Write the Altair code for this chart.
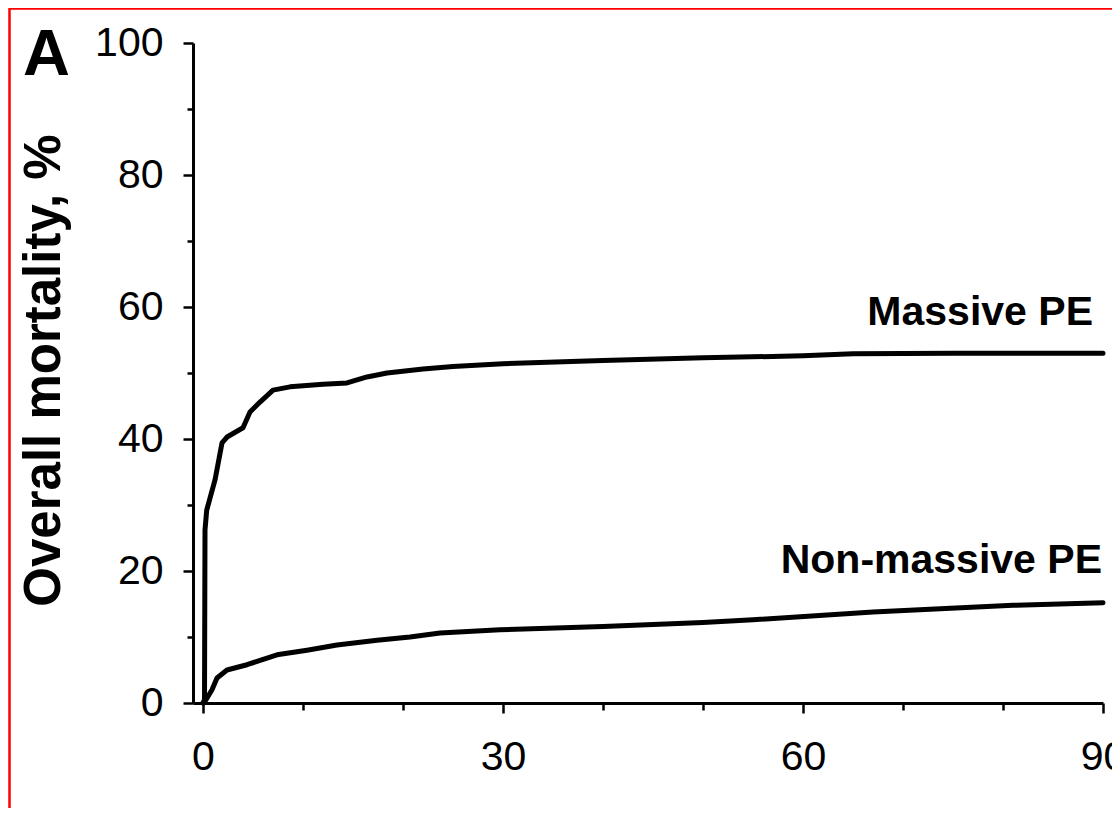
import altair as alt
import pandas as pd

# ---- data ----
days_massive = [0, 0.15, 0.2, 0.37, 1.2, 1.9, 2.4, 4.0, 4.7, 5.7, 7.0, 8.7, 12.0,
                14.4, 16.4, 18.4, 22.0, 25.0, 30.0, 40.0, 50.0, 60.0, 65.0, 75.0, 90.0]
mort_massive = [0, 0.5, 26.2, 29.2, 33.8, 39.4, 40.3, 41.7, 44.1, 45.6, 47.4, 47.9, 48.3,
                48.5, 49.4, 50.0, 50.6, 51.0, 51.4, 51.9, 52.3, 52.6, 52.9, 53.0, 53.0]

days_nonmassive = [0, 0.3, 0.9, 1.4, 2.4, 4.4, 7.4, 10.4, 13.4, 17.4, 20.7, 23.7,
                   29.7, 40.0, 50.0, 55.0, 67.0, 81.0, 90.0]
mort_nonmassive = [0, 0.5, 2.0, 3.8, 5.0, 5.8, 7.3, 8.0, 8.8, 9.5, 10.0, 10.6,
                   11.1, 11.6, 12.2, 12.6, 13.8, 14.8, 15.2]

label_text = ["Massive PE", "Non-massive PE"]
label_day = [89.0, 89.9]
label_mort = [57.3, 19.7]

x_ticks = [0, 10, 20, 30, 40, 50, 60, 70, 80, 90]
y_ticks = [0, 10, 20, 30, 40, 50, 60, 70, 80, 90, 100]
panel_letter = "A"
y_title = "Overall mortality, %"

FONT = "Liberation Sans"

lines_df = pd.concat([
    pd.DataFrame({"day": days_massive, "mort": mort_massive, "series": "Massive PE"}),
    pd.DataFrame({"day": days_nonmassive, "mort": mort_nonmassive, "series": "Non-massive PE"}),
], ignore_index=True)
lines_df["order"] = range(len(lines_df))

labels_df = pd.DataFrame({"text": label_text, "day": label_day, "mort": label_mort})

x_scale = alt.Scale(domain=[-1, 90], nice=False, zero=False)
y_scale = alt.Scale(domain=[0, 100], nice=False)

x_axis = alt.Axis(
    values=x_ticks,
    labelExpr="datum.value % 30 === 0 ? datum.label : ''",
    tickSize={"condition": {"test": "datum.value % 30 === 0", "value": 10}, "value": 7},
    tickWidth=2.5, tickColor="black",
    domainWidth=3, domainColor="black",
    labelFont=FONT, labelFontSize=41, labelColor="black",
    labelPadding=24, labelOverlap=False, labelFlush=False, labelBound=False,
    grid=False, title=None,
)
y_axis = alt.Axis(
    values=y_ticks,
    labelExpr="datum.value % 20 === 0 ? datum.label : ''",
    tickSize={"condition": {"test": "datum.value % 20 === 0", "value": 10}, "value": 6},
    tickWidth=2.5, tickColor="black",
    domainWidth=3, domainColor="black",
    labelFont=FONT, labelFontSize=41, labelColor="black",
    labelPadding=20, labelOverlap=False, labelFlush=False, labelBound=False,
    grid=False,
    title=y_title, titleFont=FONT, titleFontSize=51, titleFontWeight="bold",
    titleColor="black", titleAngle=270, titleX=-134, titleY=327,
    titleAlign="center", titleBaseline="alphabetic",
)

lines = alt.Chart(lines_df).mark_line(
    color="black", strokeWidth=5, strokeJoin="round", strokeCap="round"
).encode(
    x=alt.X("day:Q", scale=x_scale, axis=x_axis),
    y=alt.Y("mort:Q", scale=y_scale, axis=y_axis),
    detail="series:N",
    order="order:Q",
)

labels = alt.Chart(labels_df).mark_text(
    font=FONT, fontSize=41, fontWeight="bold", color="black",
    align="right", baseline="alphabetic"
).encode(
    x=alt.X("day:Q", scale=x_scale),
    y=alt.Y("mort:Q", scale=y_scale),
    text="text:N",
)

one = pd.DataFrame({"t": [panel_letter]})
letter = alt.Chart(one).mark_text(
    font=FONT, fontSize=65, fontWeight="bold", color="black",
    align="center", baseline="alphabetic"
).encode(x=alt.value(-146.5), y=alt.value(32), text="t:N")

border = alt.Chart(one).mark_rect(
    fillOpacity=0, stroke="#ff0000", strokeWidth=2.5
).encode(x=alt.value(-183.5), x2=alt.value(1200), y=alt.value(-34.5), y2=alt.value(900))

chart = alt.layer(lines, labels, letter, border).properties(
    width=910, height=660,
    autosize=alt.AutoSizeParams(type="none"),
    padding={"left": 185, "top": 35, "right": 9, "bottom": 105},
    background="white",
).configure_view(stroke=None)

chart.save("out.html", embed_options={"renderer": "svg", "actions": False})
